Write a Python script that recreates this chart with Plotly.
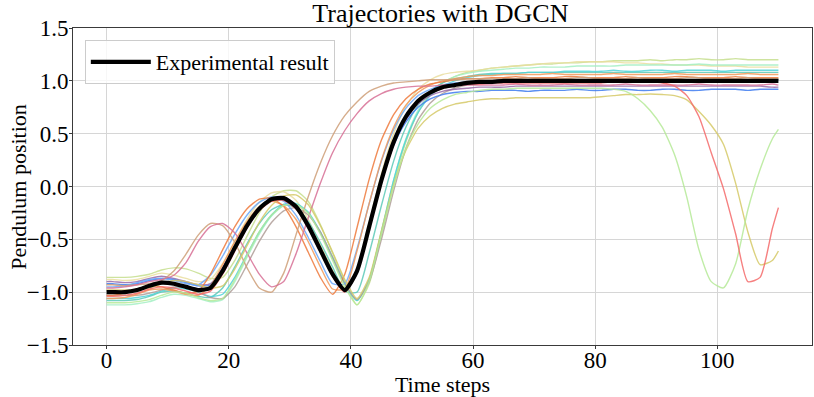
import plotly.graph_objects as go

# time grid: 0, 1, 3, 5, ... 109, 110
time_steps = [0] + list(range(1, 110, 2)) + [110]

experimental = [
    -1.00, -1.00, -1.00, -0.98, -0.94, -0.91, -0.92, -0.95, -0.98, -0.96,
    -0.80, -0.58, -0.37, -0.21, -0.12, -0.11, -0.19, -0.37, -0.60, -0.83,
    -0.98, -0.80, -0.38, 0.06, 0.42, 0.66, 0.81, 0.89, 0.94, 0.96,
    0.98, 0.99,
    0.99, 1.00, 1.00, 1.00, 1.00, 1.00, 1.00, 1.00, 1.00, 1.00, 1.00, 1.00, 1.00,
    1.00, 1.00, 1.00, 1.00, 1.00, 1.00, 1.00, 1.00, 1.00, 1.00, 1.00, 1.00,
]

traj_tan = [
    -0.93, -0.93, -0.94, -0.93, -0.92, -0.89, -0.80, -0.64, -0.46, -0.35,
    -0.37, -0.53, -0.77, -0.96, -1.00, -0.82, -0.46, -0.10, 0.22, 0.48,
    0.67, 0.80, 0.90, 0.95, 0.98, 0.99, 1.00, 1.01, 1.01, 1.01,
    1.02, 1.02,
    1.02, 1.02, 1.02, 1.03, 1.02, 1.02, 1.02, 1.03, 1.03, 1.02, 1.02, 1.02, 1.03,
    1.02, 1.02, 1.02, 1.03, 1.03, 1.02, 1.02, 1.02, 1.03, 1.02, 1.02, 1.02,
]
traj_pink = [
    -0.96, -0.96, -0.95, -0.93, -0.90, -0.88, -0.84, -0.72, -0.52, -0.38,
    -0.35, -0.44, -0.63, -0.83, -0.95, -0.90, -0.64, -0.30, 0.03, 0.32,
    0.53, 0.69, 0.81, 0.88, 0.92, 0.94, 0.95, 0.95, 0.96, 0.96,
    0.96, 0.96,
    0.96, 0.96, 0.97, 0.96, 0.96, 0.96, 0.97, 0.96, 0.96, 0.96, 0.96, 0.97, 0.96,
    0.96, 0.96, 0.96, 0.96, 0.97, 0.96, 0.96, 0.96, 0.96, 0.96, 0.97, 0.96,
]
traj_orange = [
    -1.03, -1.03, -1.01, -0.97, -0.94, -0.95, -0.98, -1.01, -0.99, -0.83,
    -0.60, -0.38, -0.21, -0.12, -0.11, -0.19, -0.38, -0.62, -0.86, -1.02,
    -0.83, -0.39, 0.07, 0.44, 0.68, 0.83, 0.92, 0.97, 0.99, 1.01,
    1.02, 1.02,
    1.03, 1.03, 1.04, 1.03, 1.03, 1.03, 1.04, 1.04, 1.03, 1.03, 1.03, 1.04, 1.03,
    1.03, 1.03, 1.04, 1.04, 1.03, 1.03, 1.03, 1.04, 1.03, 1.03, 1.03, 1.03,
]
traj_red = [
    -1.04, -1.04, -1.03, -1.01, -0.97, -0.95, -0.96, -0.99, -1.02, -0.99,
    -0.83, -0.61, -0.39, -0.23, -0.14, -0.13, -0.21, -0.39, -0.62, -0.85,
    -1.00, -0.82, -0.39, 0.05, 0.41, 0.65, 0.80, 0.88, 0.93, 0.95,
    0.97, 0.97,
    0.98, 0.98, 0.98, 0.98, 0.98, 0.98, 0.98, 0.98, 0.98, 0.98, 0.99, 0.99, 0.99,
    0.99, 0.98, 0.95, 0.86, 0.66, 0.32, -0.02, -0.45, -0.90, -0.86, -0.40, -0.20,
]
traj_green = [
    -1.10, -1.10, -1.10, -1.09, -1.07, -1.03, -1.00, -1.01, -1.05, -1.08,
    -1.06, -0.88, -0.65, -0.43, -0.27, -0.18, -0.17, -0.25, -0.45, -0.70,
    -0.95, -1.12, -0.90, -0.45, 0.00, 0.36, 0.59, 0.74, 0.82, 0.87,
    0.89, 0.91,
    0.92, 0.92, 0.93, 0.93, 0.93, 0.93, 0.93, 0.93, 0.93, 0.93, 0.92, 0.90, 0.83,
    0.72, 0.56, 0.30, -0.10, -0.60, -0.90, -0.96, -0.73, -0.22, 0.16, 0.45, 0.54,
]
traj_olive = [
    -0.98, -0.98, -0.98, -0.98, -0.96, -0.92, -0.89, -0.90, -0.93, -0.96,
    -0.94, -0.78, -0.56, -0.34, -0.18, -0.09, -0.08, -0.17, -0.37, -0.62,
    -0.88, -1.06, -0.86, -0.42, 0.02, 0.34, 0.55, 0.67, 0.74, 0.78,
    0.80, 0.82,
    0.83, 0.83, 0.84, 0.84, 0.84, 0.84, 0.84, 0.84, 0.84, 0.85, 0.86, 0.87, 0.87,
    0.875, 0.87, 0.86, 0.82, 0.71, 0.58, 0.40, 0.03, -0.43, -0.74, -0.70, -0.61,
]
traj_cyan = [
    -1.06, -1.06, -1.06, -1.05, -1.03, -0.99, -0.96, -0.97, -1.00, -1.04,
    -1.02, -0.86, -0.64, -0.43, -0.27, -0.17, -0.16, -0.24, -0.43, -0.67,
    -0.92, -1.08, -0.88, -0.43, 0.06, 0.44, 0.70, 0.86, 0.95, 1.00,
    1.03, 1.05,
    1.06, 1.07, 1.07, 1.08, 1.08, 1.08, 1.09, 1.09, 1.09, 1.09, 1.10, 1.09, 1.09,
    1.10, 1.10, 1.09, 1.10, 1.10, 1.10, 1.09, 1.10, 1.10, 1.10, 1.10, 1.10,
]
traj_lightblue = [
    -0.95, -0.95, -0.94, -0.91, -0.88, -0.87, -0.89, -0.92, -0.93, -0.84,
    -0.66, -0.45, -0.27, -0.15, -0.10, -0.14, -0.27, -0.48, -0.71, -0.92,
    -0.92, -0.59, -0.16, 0.24, 0.54, 0.74, 0.86, 0.92, 0.96, 0.98,
    0.99, 1.00,
    1.00, 1.01, 1.01, 1.01, 1.00, 1.01, 1.01, 1.01, 1.01, 1.00, 1.01, 1.01, 1.01,
    1.01, 1.00, 1.01, 1.01, 1.01, 1.01, 1.00, 1.01, 1.01, 1.01, 1.01, 1.01,
]
traj_blue = [
    -0.92, -0.92, -0.93, -0.92, -0.89, -0.87, -0.88, -0.91, -0.94, -0.93,
    -0.78, -0.57, -0.36, -0.20, -0.11, -0.10, -0.18, -0.36, -0.59, -0.82,
    -0.97, -0.80, -0.39, 0.04, 0.39, 0.61, 0.75, 0.83, 0.87, 0.89,
    0.90, 0.90,
    0.91, 0.91, 0.91, 0.90, 0.91, 0.91, 0.91, 0.92, 0.91, 0.91, 0.92, 0.92, 0.91,
    0.91, 0.92, 0.92, 0.91, 0.91, 0.92, 0.92, 0.92, 0.91, 0.92, 0.92, 0.92,
]
traj_purple = [
    -0.90, -0.90, -0.91, -0.90, -0.87, -0.85, -0.87, -0.90, -0.93, -0.92,
    -0.77, -0.56, -0.36, -0.21, -0.13, -0.13, -0.21, -0.38, -0.61, -0.84,
    -0.99, -0.81, -0.40, 0.04, 0.40, 0.63, 0.78, 0.86, 0.90, 0.92,
    0.93, 0.94,
    0.94, 0.94, 0.95, 0.95, 0.95, 0.95, 0.95, 0.95, 0.95, 0.95, 0.95, 0.95, 0.95,
    0.95, 0.95, 0.95, 0.95, 0.95, 0.95, 0.95, 0.95, 0.95, 0.95, 0.94, 0.94,
]
traj_gray = [
    -1.03, -1.03, -1.03, -1.03, -1.01, -0.98, -0.95, -0.96, -1.00, -1.05,
    -1.06, -0.95, -0.74, -0.52, -0.34, -0.23, -0.20, -0.27, -0.43, -0.67,
    -0.92, -1.07, -0.90, -0.50, -0.04, 0.36, 0.63, 0.79, 0.88, 0.93,
    0.96, 0.98,
    0.99, 1.00, 1.00, 1.01, 1.01, 1.01, 1.01, 1.01, 1.01, 1.01, 1.01, 1.01, 1.01,
    1.01, 1.01, 1.01, 1.01, 1.01, 1.01, 1.01, 1.01, 1.01, 1.01, 1.01, 1.01,
]
traj_mint = [
    -1.12, -1.12, -1.12, -1.11, -1.09, -1.05, -1.02, -1.03, -1.06, -1.09,
    -1.07, -0.90, -0.67, -0.45, -0.28, -0.18, -0.17, -0.25, -0.44, -0.68,
    -0.92, -1.08, -0.88, -0.42, 0.06, 0.45, 0.72, 0.89, 0.98, 1.04,
    1.07, 1.09,
    1.10, 1.11, 1.12, 1.12, 1.13, 1.13, 1.13, 1.14, 1.14, 1.14, 1.14, 1.15, 1.15,
    1.15, 1.15, 1.15, 1.15, 1.16, 1.15, 1.15, 1.15, 1.15, 1.15, 1.15, 1.15,
]
traj_pale = [
    -0.88, -0.88, -0.89, -0.88, -0.85, -0.82, -0.84, -0.87, -0.90, -0.88,
    -0.73, -0.52, -0.31, -0.15, -0.06, -0.05, -0.13, -0.31, -0.55, -0.79,
    -0.96, -0.78, -0.34, 0.12, 0.50, 0.76, 0.92, 1.01, 1.06, 1.08,
    1.09, 1.10,
    1.12, 1.13, 1.14, 1.15, 1.16, 1.17, 1.17, 1.18, 1.18, 1.18, 1.18, 1.17, 1.17,
    1.16, 1.16, 1.15, 1.15, 1.15, 1.14, 1.14, 1.14, 1.13, 1.13, 1.13, 1.13,
]
traj_khaki = [
    -0.86, -0.86, -0.86, -0.85, -0.83, -0.79, -0.77, -0.78, -0.82, -0.87,
    -0.86, -0.70, -0.47, -0.25, -0.10, -0.04, -0.04, -0.14, -0.36, -0.63,
    -0.90, -1.12, -0.92, -0.46, 0.02, 0.42, 0.70, 0.88, 0.98, 1.04,
    1.08, 1.10,
    1.12, 1.13, 1.14, 1.15, 1.16, 1.16, 1.17, 1.17, 1.18, 1.18, 1.19, 1.19, 1.19,
    1.20, 1.19, 1.20, 1.20, 1.21, 1.20, 1.20, 1.21, 1.20, 1.20, 1.20, 1.20,
]
traj_orange2 = [
    -1.06, -1.06, -1.05, -1.02, -0.98, -0.97, -0.99, -1.02, -1.03, -0.94,
    -0.74, -0.52, -0.33, -0.19, -0.14, -0.18, -0.31, -0.52, -0.76, -0.97,
    -0.97, -0.61, -0.16, 0.25, 0.56, 0.77, 0.89, 0.96, 1.00, 1.02,
    1.04, 1.05,
    1.05, 1.06, 1.06, 1.06, 1.06, 1.07, 1.06, 1.06, 1.06, 1.06, 1.07, 1.06, 1.06,
    1.06, 1.06, 1.07, 1.06, 1.06, 1.06, 1.06, 1.06, 1.07, 1.06, 1.06, 1.06,
]
traj_teal = [
    -1.08, -1.08, -1.08, -1.07, -1.04, -1.00, -0.99, -1.01, -1.04, -1.05,
    -0.96, -0.76, -0.54, -0.35, -0.22, -0.17, -0.20, -0.33, -0.53, -0.76,
    -0.99, -1.00, -0.63, -0.18, 0.24, 0.56, 0.77, 0.90, 0.98, 1.02,
    1.04, 1.06,
    1.07, 1.07, 1.07, 1.08, 1.08, 1.08, 1.08, 1.08, 1.08, 1.08, 1.08, 1.08, 1.08,
    1.08, 1.08, 1.08, 1.08, 1.08, 1.08, 1.08, 1.08, 1.08, 1.08, 1.08, 1.08,
]

trajectories = [
    (traj_khaki, "#c6df8e"),
    (traj_pale, "#eadfa0"),
    (traj_mint, "#a4f0c4"),
    (traj_teal, "#5ccab8"),
    (traj_cyan, "#4fd3d8"),
    (traj_gray, "#b09e98"),
    (traj_purple, "#9a6aa8"),
    (traj_blue, "#3f7cf0"),
    (traj_lightblue, "#6aa8fb"),
    (traj_orange2, "#f39a5a"),
    (traj_orange, "#ef7a3c"),
    (traj_tan, "#cf9f78"),
    (traj_pink, "#d87096"),
    (traj_olive, "#d6ca68"),
    (traj_green, "#b6ea98"),
    (traj_red, "#f56a6a"),
]

for values, _ in trajectories + [(experimental, "")]:
    assert len(values) == len(time_steps), len(values)

FONT = "Liberation Serif, Times New Roman, serif"

fig = go.Figure()
for values, color in trajectories:
    fig.add_trace(go.Scatter(
        x=time_steps, y=values, mode="lines",
        line={"color": color, "width": 1.4, "shape": "spline", "smoothing": 0.6},
        opacity=0.85, showlegend=False, hoverinfo="skip",
    ))
fig.add_trace(go.Scatter(
    x=time_steps, y=experimental, mode="lines", name="Experimental result",
    line={"color": "black", "width": 4.2, "shape": "spline", "smoothing": 0.6},
))

axis_common = {
    "showline": True, "mirror": True, "linecolor": "#3a3a3a", "linewidth": 1,
    "ticks": "outside", "ticklen": 3, "tickcolor": "#3a3a3a",
    "showgrid": True, "gridcolor": "#d6d6d6", "gridwidth": 1.2,
    "zeroline": False, "automargin": False,
    "tickfont": {"family": FONT, "size": 23, "color": "black"},
}

fig.update_layout(
    width=814, height=397,
    paper_bgcolor="white", plot_bgcolor="white",
    margin={"l": 73, "r": 2, "t": 28, "b": 52},
    font={"family": FONT, "color": "black"},
    title={"text": "Trajectories with DGCN", "x": 0.541, "xanchor": "center",
           "y": 0.967, "yanchor": "middle", "font": {"size": 26, "family": FONT}},
    xaxis={**axis_common, "range": [-5.5, 115.5], "tickvals": [0, 20, 40, 60, 80, 100],
           "ticklabelstandoff": -9,
           "title": {"text": "Time steps", "font": {"size": 22, "family": FONT}, "standoff": 0}},
    yaxis={**axis_common, "range": [-1.5, 1.5], "tickvals": [-1.5, -1.0, -0.5, 0.0, 0.5, 1.0, 1.5],
           "tickformat": ".1f", "ticklabelstandoff": -4},
    legend={"x": 0.016, "y": 0.962, "xanchor": "left", "yanchor": "top",
            "bgcolor": "rgba(255,255,255,0.8)", "bordercolor": "#cccccc", "borderwidth": 1,
            "itemwidth": 60, "font": {"size": 22, "family": FONT}},
    annotations=[{
        "text": "Pendulum position", "textangle": -90, "showarrow": False,
        "xref": "paper", "yref": "paper", "x": -0.074, "y": 0.5,
        "xanchor": "center", "yanchor": "middle",
        "font": {"size": 22, "family": FONT, "color": "black"},
    }],
)

# page body has a default 8px margin; drop it so the figure sits at the corner
fig.write_html("out.html", config={"displayModeBar": False},
               post_script="document.body.style.margin = '0';")
